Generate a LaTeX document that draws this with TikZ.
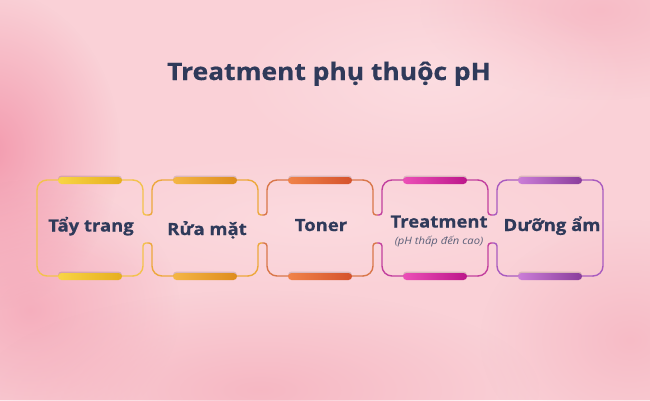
\documentclass[tikz,border=0pt]{standalone}
\usepackage{fontspec}
\setmainfont{Open Sans}[FakeStretch=1.1, BoldFeatures={FakeBold=0.6}]
\usetikzlibrary{fadings}
\definecolor{bg}{HTML}{FAD1D7}
\definecolor{blobA}{HTML}{F292A8}
\definecolor{blobB}{HTML}{F5ADBB}
\definecolor{blobW}{HTML}{FDE4E7}
\definecolor{ink}{HTML}{2F3A5A}
\definecolor{subink}{HTML}{5A5F78}
\definecolor{oA}{HTML}{F3C24C}\definecolor{bA1}{HTML}{F8D545}\definecolor{bA2}{HTML}{E6AE1E}
\definecolor{oB}{HTML}{EDA83C}\definecolor{bB1}{HTML}{F4B645}\definecolor{bB2}{HTML}{DE8C1E}
\definecolor{oC}{HTML}{D9774A}\definecolor{bC1}{HTML}{F08349}\definecolor{bC2}{HTML}{D5522C}
\definecolor{oD}{HTML}{C2409E}\definecolor{bD1}{HTML}{EC50B7}\definecolor{bD2}{HTML}{BC168A}
\definecolor{oE}{HTML}{A95BBF}\definecolor{bE1}{HTML}{CB7ED8}\definecolor{bE2}{HTML}{8A3D9B}
\tikzfading[name=blob, inner color=transparent!0, outer color=transparent!100]
\tikzset{
  x=1pt, y=1pt,
  outl/.style={line width=1.4pt, line join=round, line cap=round},
  lbl/.style={font=\fontsize{16.8}{20}\selectfont\bfseries, text=ink, anchor=base, inner sep=0pt},
  sublbl/.style={font=\fontsize{10.2}{12}\selectfont\itshape, text=subink, anchor=base, inner sep=0pt},
  ttl/.style={font=\fontsize{24}{28}\selectfont\bfseries, text=ink, anchor=base, inner sep=0pt},
}
% #1 left x, #2 outline colour, #3 bar colour1, #4 bar colour2, #5 has left neighbour (1/0), #6 has right neighbour
\newcommand{\stepframe}[6]{%
  \pgfmathsetmacro{\Lx}{#1}\pgfmathsetmacro{\Rx}{#1+106}%
  \ifnum#5=1
    \draw[outl,#2] (\Lx-4.25,185) -- (\Lx-3,185) arc (270:360:3) -- (\Lx,210) arc (180:90:10) -- (\Rx-10,220);
    \draw[outl,#2] (\Lx-4.25,157) -- (\Lx-3,157) arc (90:0:3) -- (\Lx,134) arc (180:270:10) -- (\Rx-10,124);
  \else
    \draw[outl,#2] (\Rx-10,220) -- (\Lx+10,220) arc (90:180:10) -- (\Lx,134) arc (180:270:10) -- (\Rx-10,124);
  \fi
  \ifnum#6=1
    \draw[outl,#2] (\Rx-10,220) arc (90:0:10) -- (\Rx,188) arc (180:270:3) -- (\Rx+4.25,185);
    \draw[outl,#2] (\Rx-10,124) arc (270:360:10) -- (\Rx,154) arc (180:90:3) -- (\Rx+4.25,157);
  \else
    \draw[outl,#2] (\Rx-10,220) arc (90:0:10) -- (\Rx,134) arc (0:-90:10);
  \fi
  \fill[black,opacity=0.12,rounded corners=3.5pt] (\Lx+21,217.5) rectangle (\Rx-21,224.5);
  \shade[left color=#3,right color=#4,rounded corners=3.5pt] (\Lx+21,216) rectangle (\Rx-21,223);
  \fill[black,opacity=0.12,rounded corners=3.5pt] (\Lx+21,121.5) rectangle (\Rx-21,128.5);
  \shade[left color=#3,right color=#4,rounded corners=3.5pt] (\Lx+21,120) rectangle (\Rx-21,127);
}
\begin{document}
\begin{tikzpicture}
\useasboundingbox (0,0) rectangle (650,400);
\fill[bg] (0,0) rectangle (650,400);
\fill[blobA,opacity=0.85,path fading=blob] (-10,250) ellipse (130 and 160);
\fill[blobA,opacity=0.55,path fading=blob] (30,90) ellipse (150 and 130);
\fill[blobB,opacity=0.7,path fading=blob] (260,10) ellipse (280 and 100);
\fill[blobB,opacity=0.6,path fading=blob] (630,60) ellipse (150 and 120);
\fill[blobB,opacity=0.6,path fading=blob] (600,390) ellipse (180 and 90);
\fill[blobW,opacity=0.6,path fading=blob] (430,320) ellipse (200 and 90);
\fill[blobW,opacity=0.5,path fading=blob] (320,180) ellipse (280 and 70);

\node[ttl] (title) at (329,320) {Treatment phụ thuộc pH};

\stepframe{37}{oA}{bA1}{bA2}{0}{1}
\stepframe{152}{oB}{bB1}{bB2}{1}{1}
\stepframe{267}{oC}{bC1}{bC2}{1}{1}
\stepframe{382}{oD}{bD1}{bD2}{1}{1}
\stepframe{497}{oE}{bE1}{bE2}{1}{0}

\node[lbl] (t1) at (91,168.5) {Tẩy trang};
\node[lbl] (t2) at (207,165) {Rửa mặt};
\node[lbl] (t3) at (321,169) {Toner};
\node[lbl] (t4) at (439,172.5) {Treatment};
\node[sublbl] (t4s) at (439,156) {(pH thấp đến cao)};
\node[lbl] (t5) at (552,169) {Dưỡng ẩm};
\end{tikzpicture}
\end{document}
